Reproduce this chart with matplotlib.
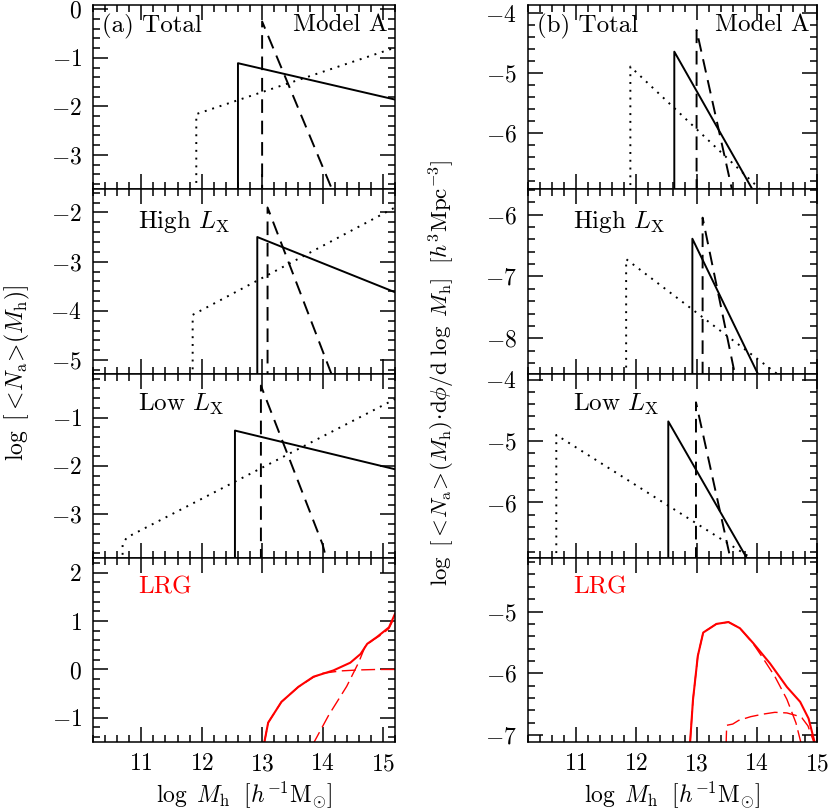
import numpy as np
import matplotlib
matplotlib.use('Agg')
import matplotlib.pyplot as plt
from matplotlib.ticker import MultipleLocator, FixedLocator

plt.rcParams['font.family'] = 'serif'
plt.rcParams['font.serif'] = ['cmr10', 'DejaVu Serif']
plt.rcParams['mathtext.fontset'] = 'cm'
plt.rcParams['axes.formatter.use_mathtext'] = True
plt.rcParams['axes.unicode_minus'] = True

# ---- 左列: log <N_a>(M_h) ----
# Total
a1_solid_x = [12.60, 12.60, 15.2]
a1_solid_y = [-3.9, -1.11, -1.86]
a1_dash_x = [13.0, 13.0, 14.17]
a1_dash_y = [-3.9, -0.25, -3.75]
a1_dot_x = [11.91, 11.91, 15.2]
a1_dot_y = [-3.9, -2.16, -0.79]
# High Lx
a2_solid_x = [12.92, 12.92, 15.2]
a2_solid_y = [-5.5, -2.50, -3.62]
a2_dash_x = [13.09, 13.09, 14.17]
a2_dash_y = [-5.5, -1.90, -5.35]
a2_dot_x = [11.85, 11.85, 15.2]
a2_dot_y = [-5.5, -4.08, -1.90]
# Low Lx
a3_solid_x = [12.55, 12.55, 15.2]
a3_solid_y = [-4.0, -1.27, -2.07]
a3_dash_x = [12.98, 12.98, 14.0, 14.07]
a3_dash_y = [-4.0, -0.34, -3.62, -3.95]
a3_dot_x = [10.69, 10.69, 10.76, 15.2]
a3_dot_y = [-4.0, -3.62, -3.48, -0.62]
# LRG
a4_tot_x = [13.03, 13.10, 13.32, 13.60, 13.85, 14.18, 14.46, 14.63, 14.74, 14.90, 15.10, 15.20]
a4_tot_y = [-1.55, -1.10, -0.67, -0.36, -0.15, -0.02, 0.14, 0.32, 0.53, 0.67, 0.87, 1.15]
a4_cen_x = [13.03, 13.10, 13.32, 13.60, 13.85, 14.0, 14.3, 14.6, 14.9, 15.2]
a4_cen_y = [-1.55, -1.10, -0.67, -0.36, -0.16, -0.08, -0.03, -0.01, 0.0, 0.0]
a4_sat_x = [13.84, 14.1, 14.4, 14.6, 14.71, 14.85, 15.0, 15.1, 15.2]
a4_sat_y = [-1.55, -0.95, -0.35, 0.15, 0.49, 0.62, 0.74, 0.85, 1.1]

# ---- 右列: log <N_a> dphi/dlogM ----
b1_solid_x = [12.63, 12.63, 13.96]
b1_solid_y = [-7.0, -4.64, -7.0]
b1_dash_x = [13.0, 13.0, 13.60]
b1_dash_y = [-7.0, -4.28, -7.0]
b1_dot_x = [11.90, 11.90, 14.12]
b1_dot_y = [-7.0, -4.89, -7.0]

b2_solid_x = [12.93, 12.93, 14.03]
b2_solid_y = [-8.6, -6.39, -8.6]
b2_dash_x = [13.10, 13.10, 13.64]
b2_dash_y = [-8.6, -6.05, -8.6]
b2_dot_x = [11.83, 11.83, 14.37]
b2_dot_y = [-8.6, -6.72, -8.6]

b3_solid_x = [12.53, 12.53, 13.86]
b3_solid_y = [-6.95, -4.68, -6.95]
b3_dash_x = [12.99, 12.99, 13.57]
b3_dash_y = [-6.95, -4.37, -6.95]
b3_dot_x = [10.67, 10.67, 13.98]
b3_dot_y = [-6.95, -4.90, -6.95]

b4_tot_x = [12.89, 12.94, 13.02, 13.11, 13.33, 13.53, 13.72, 13.94, 14.22, 14.50, 14.72, 14.86, 14.97]
b4_tot_y = [-7.15, -6.43, -5.72, -5.34, -5.20, -5.17, -5.27, -5.51, -5.84, -6.22, -6.46, -6.73, -7.15]
b4_cen_x = [12.89, 12.94, 13.02, 13.11, 13.33, 13.53, 13.72, 13.94, 14.10, 14.30, 14.50, 14.65, 14.74]
b4_cen_y = [-7.15, -6.43, -5.72, -5.34, -5.20, -5.17, -5.27, -5.52, -5.75, -6.05, -6.42, -6.80, -7.15]
b4_sat_x = [13.49, 13.50, 13.60, 13.70, 13.90, 14.10, 14.30, 14.50, 14.65, 14.75, 14.85, 14.95]
b4_sat_y = [-7.15, -6.84, -6.82, -6.76, -6.70, -6.66, -6.63, -6.64, -6.68, -6.72, -6.85, -7.12]

left_ylims = [(-3.71, 0.09), (-5.27, -1.53), (-3.90, -0.09), (-1.50, 2.31)]
right_ylims = [(-6.94, -3.86), (-8.57, -5.59), (-6.90, -3.90), (-7.11, -4.13)]
left_yticks = [[0, -1, -2, -3], [-2, -3, -4, -5], [-1, -2, -3], [2, 1, 0, -1]]
right_yticks = [[-4, -5, -6], [-6, -7, -8], [-4, -5, -6], [-5, -6, -7]]
x_ticks = [11, 12, 13, 14, 15]
panel_names = ['Total', r'High $L_{\rm X}$', r'Low $L_{\rm X}$', 'LRG']

fig = plt.figure(figsize=(8.3, 8.11), dpi=100)
W, H = 830.0, 811.0
row_top = [5, 189.25, 373.5, 557.75]
row_h = 184.25


def style_axes(ax, xlim, ylim, yticks):
    ax.set_xlim(*xlim)
    ax.set_ylim(*ylim)
    ax.xaxis.set_major_locator(FixedLocator(x_ticks))
    ax.xaxis.set_minor_locator(MultipleLocator(0.2))
    ax.yaxis.set_major_locator(FixedLocator(yticks))
    ax.yaxis.set_minor_locator(MultipleLocator(0.2))
    ax.tick_params(which='both', direction='in', top=True, right=True,
                   labelsize=17, width=1.1, pad=8)
    ax.tick_params(which='major', length=10.5)
    ax.tick_params(which='minor', length=5)
    for s in ax.spines.values():
        s.set_linewidth(1.1)


axes_l, axes_r = [], []
for i in range(4):
    bottom = 1 - (row_top[i] + row_h) / H
    axl = fig.add_axes([93 / W, bottom, 302 / W, row_h / H])
    axr = fig.add_axes([528 / W, bottom, 289 / W, row_h / H])
    style_axes(axl, (10.2, 15.2), left_ylims[i], left_yticks[i])
    style_axes(axr, (10.2, 15.0), right_ylims[i], right_yticks[i])
    if i < 3:
        axl.tick_params(labelbottom=False)
        axr.tick_params(labelbottom=False)
    axes_l.append(axl)
    axes_r.append(axr)

dash_k = (0, (7, 4))
dot_k = (0, (1, 3))
lw = 1.4

black_sets_l = [
    (a1_solid_x, a1_solid_y, a1_dash_x, a1_dash_y, a1_dot_x, a1_dot_y),
    (a2_solid_x, a2_solid_y, a2_dash_x, a2_dash_y, a2_dot_x, a2_dot_y),
    (a3_solid_x, a3_solid_y, a3_dash_x, a3_dash_y, a3_dot_x, a3_dot_y),
]
black_sets_r = [
    (b1_solid_x, b1_solid_y, b1_dash_x, b1_dash_y, b1_dot_x, b1_dot_y),
    (b2_solid_x, b2_solid_y, b2_dash_x, b2_dash_y, b2_dot_x, b2_dot_y),
    (b3_solid_x, b3_solid_y, b3_dash_x, b3_dash_y, b3_dot_x, b3_dot_y),
]
for ax, s in list(zip(axes_l[:3], black_sets_l)) + list(zip(axes_r[:3], black_sets_r)):
    ax.plot(s[0], s[1], color='black', lw=lw, ls='-')
    ax.plot(s[2], s[3], color='black', lw=lw, ls=dash_k)
    ax.plot(s[4], s[5], color='black', lw=lw, ls=dot_k)

dash_r = (0, (10, 4))
axes_l[3].plot(a4_tot_x, a4_tot_y, color='red', lw=1.5)
axes_l[3].plot(a4_cen_x, a4_cen_y, color='red', lw=1.0, ls=dash_r)
axes_l[3].plot(a4_sat_x, a4_sat_y, color='red', lw=1.0, ls=dash_r)
axes_r[3].plot(b4_tot_x, b4_tot_y, color='red', lw=1.5)
axes_r[3].plot(b4_cen_x, b4_cen_y, color='red', lw=1.0, ls=dash_r)
axes_r[3].plot(b4_sat_x, b4_sat_y, color='red', lw=1.0, ls=dash_r)

# 面板文字
fs = 18
axes_l[0].text(0.03, 0.95, '(a) Total', transform=axes_l[0].transAxes,
               fontsize=fs, va='top', ha='left')
axes_r[0].text(0.03, 0.95, '(b) Total', transform=axes_r[0].transAxes,
               fontsize=fs, va='top', ha='left')
for ax in (axes_l[0], axes_r[0]):
    ax.text(0.975, 0.95, 'Model A', transform=ax.transAxes,
            fontsize=fs, va='top', ha='right')
for i in (1, 2):
    axes_l[i].text(0.15, 0.90, panel_names[i], transform=axes_l[i].transAxes,
                   fontsize=fs, va='top', ha='left')
    axes_r[i].text(0.155, 0.90, panel_names[i], transform=axes_r[i].transAxes,
                   fontsize=fs, va='top', ha='left')
axes_l[3].text(0.15, 0.90, 'LRG', transform=axes_l[3].transAxes,
               fontsize=fs, va='top', ha='left', color='red')
axes_r[3].text(0.155, 0.90, 'LRG', transform=axes_r[3].transAxes,
               fontsize=fs, va='top', ha='left', color='red')

xlab = r'$\log\ M_{\rm h}\ \ [h^{-1}{\rm M}_{\odot}]$'
fig.text(244 / W, 1 - 795 / H, xlab, fontsize=17, ha='center', va='center')
fig.text(672 / W, 1 - 795 / H, xlab, fontsize=17, ha='center', va='center')
fig.text(17 / W, 1 - 373 / H, r'$\log\ [<\!N_{\rm a}\!>\!(M_{\rm h})]$',
         fontsize=17, ha='center', va='center', rotation=90)
fig.text(442 / W, 1 - 373 / H,
         r'$\log\ [<\!N_{\rm a}\!>\!(M_{\rm h})\!\cdot\!{\rm d}\phi/{\rm d}\ \log\ M_{\rm h}]\ \ [h^{3}{\rm Mpc}^{-3}]$',
         fontsize=16.5, ha='center', va='center', rotation=90)

fig.savefig('out.png', dpi=100)
